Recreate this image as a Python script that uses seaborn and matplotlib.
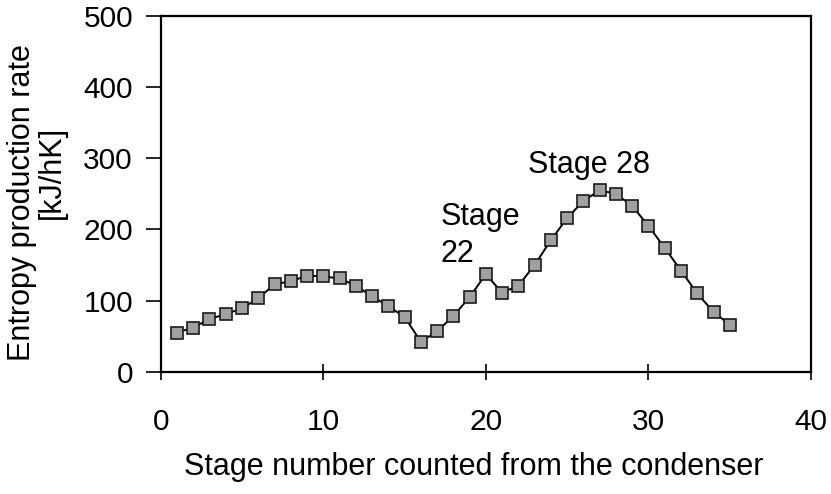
import matplotlib
matplotlib.use("Agg")
import matplotlib.pyplot as plt
import seaborn as sns
import pandas as pd

stages = list(range(1, 36))
entropy_rate = [55, 62, 74, 81, 89, 103, 123, 127, 135, 134,
                131, 121, 106, 92, 77, 42, 57, 78, 105, 137,
                111, 121, 150, 185, 216, 240, 255, 250, 233, 205,
                174, 142, 110, 84, 66]
x_ticks = [0, 10, 20, 30, 40]
y_ticks = [0, 100, 200, 300, 400, 500]

df = pd.DataFrame({"stage": stages, "rate": entropy_rate})

sns.set_style("ticks")
plt.rcParams['font.family'] = ['Liberation Sans', 'DejaVu Sans']
plt.rcParams['text.color'] = 'black'

fig = plt.figure(figsize=(8.31, 4.94), dpi=100)
ax = fig.add_axes([0.1934, 0.2476, 0.976 - 0.1934, 0.9676 - 0.2476])

sns.lineplot(data=df, x="stage", y="rate", ax=ax, color="black", linewidth=1.4,
             marker="s", markersize=9, markerfacecolor="#a0a0a0",
             markeredgecolor="#1a1a1a", markeredgewidth=1.2)

ax.set_xlim(0, 40)
ax.set_ylim(0, 500)
ax.set_xticks(x_ticks)
ax.set_yticks(y_ticks)
ax.tick_params(axis="x", direction="inout", length=12, width=1.2, pad=20,
               labelsize=21.5, colors="black")
ax.tick_params(axis="y", direction="out", length=11, width=1.2, pad=9,
               labelsize=21.5, colors="black")
for s in ax.spines.values():
    s.set_visible(True)
    s.set_linewidth(1.6)
    s.set_color("black")

ax.set_xlabel("Stage number counted from the condenser", fontsize=22,
              color="black")
ax.xaxis.set_label_coords(0.482, -0.225)
ax.set_ylabel("")
fig.text(0.027, 0.59, "Entropy production rate", rotation=90, fontsize=22,
         ha="center", va="center", color="black")
fig.text(0.062, 0.65, "[kJ/hK]", rotation=90, fontsize=22,
         ha="center", va="center", color="black")

ax.text(22.6, 290, "Stage 28", fontsize=22, ha="left", va="center", color="black")
ax.text(17.2, 217, "Stage", fontsize=22, ha="left", va="center", color="black")
ax.text(17.2, 166, "22", fontsize=22, ha="left", va="center", color="black")

fig.savefig("out.png", dpi=100, facecolor="white")
